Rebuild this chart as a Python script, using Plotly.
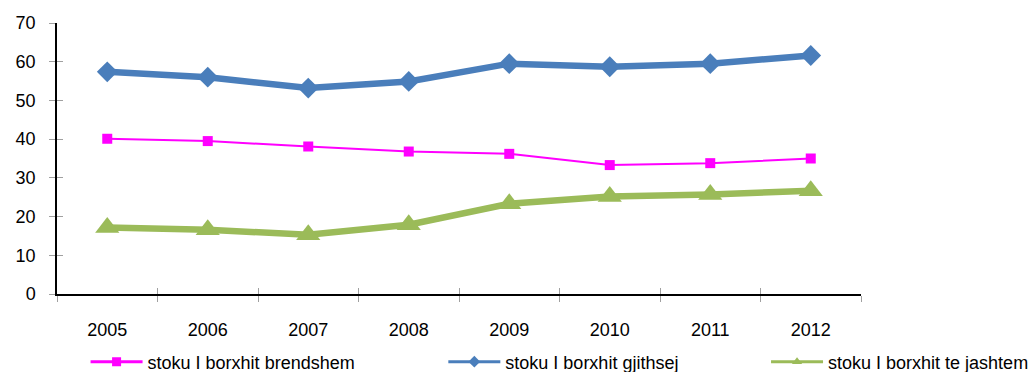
import plotly.graph_objects as go

years = ["2005", "2006", "2007", "2008", "2009", "2010", "2011", "2012"]
brendshem = [40.1, 39.5, 38.1, 36.8, 36.2, 33.3, 33.8, 35.0]
gjithsej = [57.4, 56.0, 53.2, 54.9, 59.5, 58.7, 59.5, 61.6]
jashtem = [17.2, 16.6, 15.3, 17.9, 23.3, 25.2, 25.7, 26.7]

names = ["stoku I borxhit brendshem", "stoku I borxhit gjithsej", "stoku I borxhit te jashtem"]
colors = ["#FF00FF", "#4A7EBB", "#9BBB59"]
symbols = ["square", "diamond", "triangle-up"]
series = [brendshem, gjithsej, jashtem]
line_widths = [2, 6.5, 6.5]
marker_sizes = [10, 16, 21]
legend_ids = ["legend", "legend2", "legend3"]

FONT = dict(family="Liberation Sans, Arial, sans-serif", size=18, color="#000000")

fig = go.Figure()
for name, col, sym, vals, lw, ms, lg in zip(names, colors, symbols, series,
                                            line_widths, marker_sizes, legend_ids):
    fig.add_trace(go.Scatter(
        x=years, y=vals, name=name, mode="lines+markers",
        line=dict(color=col, width=lw),
        marker=dict(symbol=sym, size=ms, color=col),
        showlegend=False,
    ))
    # slim legend key (thin line, small marker)
    fig.add_trace(go.Scatter(
        x=[None], y=[None], name=name, mode="lines+markers",
        line=dict(color=col, width=3),
        marker=dict(symbol=sym, size=9, color=col),
        legend=lg, hoverinfo="skip",
    ))

# invisible copy on overlay axes, used only for the inner half of the tick marks
fig.add_trace(go.Scatter(
    x=years, y=gjithsej, xaxis="x2", yaxis="y2", mode="lines",
    opacity=0, showlegend=False, hoverinfo="skip",
))

axis_common = dict(showgrid=False, zeroline=False, tickcolor="#A0A0A0",
                   ticklen=6, tickwidth=1, automargin=False)

legend_common = dict(xref="container", yref="container", y=0.027,
                     xanchor="left", yanchor="middle", orientation="h",
                     itemwidth=52, font=FONT, bgcolor="rgba(0,0,0,0)")

fig.update_layout(
    width=1031, height=372,
    margin=dict(l=57, r=170, t=23, b=78, autoexpand=False),
    paper_bgcolor="white", plot_bgcolor="white",
    font=FONT,
    xaxis=dict(
        type="category", categoryorder="array", categoryarray=years,
        range=[-0.5, 7.5], tickson="boundaries", ticks="outside",
        showline=True, linecolor="#000000", linewidth=1.5,
        ticklabelstandoff=19, **axis_common,
    ),
    yaxis=dict(
        range=[0, 70], dtick=10, ticks="outside",
        showline=True, linecolor="#000000", linewidth=1.5,
        ticklabelstandoff=10, **axis_common,
    ),
    xaxis2=dict(
        type="category", categoryorder="array", categoryarray=years,
        range=[-0.5, 7.5], tickson="boundaries", ticks="inside",
        overlaying="x", showticklabels=False, showline=False, **axis_common,
    ),
    yaxis2=dict(
        range=[0, 70], dtick=10, ticks="inside", overlaying="y",
        showticklabels=False, showline=False, **axis_common,
    ),
    legend=dict(x=0.083, **legend_common),
    legend2=dict(x=0.43, **legend_common),
    legend3=dict(x=0.743, **legend_common),
)

fig.write_html("out.html")
